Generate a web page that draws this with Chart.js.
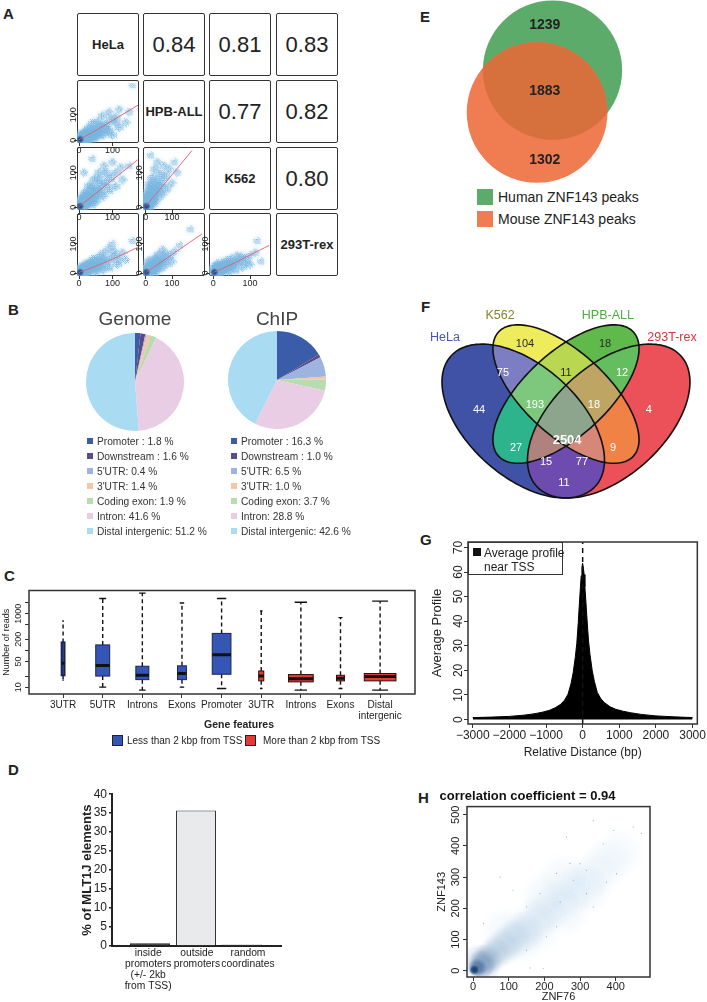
<!DOCTYPE html>
<html>
<head>
<meta charset="utf-8">
<title>ZNF143 binding overview</title>
<script src="https://cdn.jsdelivr.net/npm/chart.js@4.4.1/dist/chart.umd.min.js"></script>
<style>
  body { margin: 0; background: #fff; }
  #fig { position: relative; width: 707px; height: 1002px; overflow: hidden; background: #fff;
         font-family: "Liberation Sans", Arial, Helvetica, sans-serif; color: #222; }
  #fig canvas { position: absolute; }
  .t { position: absolute; white-space: nowrap; line-height: 1; }
  .letter { font-weight: bold; font-size: 15px; }
  .cell { position: absolute; box-sizing: border-box; border: 1.6px solid #333; border-radius: 2px;
          display: flex; align-items: center; justify-content: center; }
  .cell.name { font-weight: bold; font-size: 13px; }
  .cell.corr { font-size: 22px; }
  .leg { position: absolute; font-size: 10.2px; line-height: 15px; color: #333; white-space: nowrap; }
  .leg i { display: inline-block; width: 6px; height: 6px; margin-right: 4px; vertical-align: 1px; }
</style>
</head>
<body>
<div id="fig"></div>
<script>
// ---------------- data ----------------
// A: ZNF143 signal compared between cell lines
const cellLines = ['HeLa', 'HPB-ALL', 'K562', '293T-rex'];
const corrValues = [[0.84, 0.81, 0.83], [0.77, 0.82], [0.80]];
const pairTicks = [0, 100];
// [x, y, relative density], key = row index + column index
const cloud10 = [[3,3,1],[10,5,.9],[8,15,.8],[15,10,.9],[25,18,.8],[20,8,.85],[35,25,.7],[30,12,.75],[45,35,.6],[40,20,.65],[55,40,.5],[60,28,.55],[65,55,.4],[80,60,.35],[80,45,.4],[95,80,.25],[110,90,.2],[50,15,.5],[70,25,.4],[90,35,.3],[120,50,.2],[30,45,.4],[40,65,.25],[55,70,.3],[70,95,.2],[90,110,.15],[140,70,.12],[160,216,.05],[120,120,.1],[150,110,.08],[100,20,.2],[20,30,.5],[110,70,.2]];
const cloud20 = [[3,3,1],[10,8,.9],[15,12,.9],[25,20,.8],[20,30,.7],[35,30,.7],[45,40,.6],[40,55,.5],[55,45,.5],[65,60,.45],[60,80,.35],[80,70,.35],[95,85,.3],[80,100,.25],[110,100,.2],[125,115,.12],[20,40,.5],[30,60,.35],[45,80,.3],[60,100,.2],[75,120,.12],[50,20,.5],[35,12,.6],[70,35,.4],[90,50,.3],[110,60,.2],[130,80,.12],[150,120,.06],[40,140,.06],[15,100,.1],[8,20,.7],[100,130,.1]];
const cloud21 = [[3,3,1],[8,6,.9],[10,15,.9],[15,25,.8],[20,35,.7],[30,45,.6],[25,60,.45],[40,50,.5],[40,75,.35],[50,60,.4],[60,70,.35],[55,95,.25],[75,90,.25],[90,110,.15],[10,45,.5],[15,65,.35],[25,85,.3],[35,110,.2],[45,130,.12],[60,40,.4],[40,25,.5],[80,55,.25],[100,70,.15],[120,100,.08],[20,150,.05],[110,130,.06],[5,30,.6],[25,15,.7],[70,120,.12]];
const cloud30 = [[3,3,1],[10,4,.9],[15,8,.9],[25,12,.8],[35,18,.7],[45,22,.6],[55,28,.5],[65,35,.45],[80,40,.35],[95,50,.3],[110,60,.2],[130,70,.12],[30,30,.5],[45,45,.4],[60,55,.3],[75,70,.2],[90,85,.12],[50,8,.5],[70,15,.4],[90,20,.3],[115,30,.2],[140,45,.1],[160,110,.05],[100,100,.06],[20,25,.6],[8,12,.8],[40,35,.5],[70,50,.3],[105,75,.15],[120,45,.15]];
const cloud31 = [[3,3,1],[10,8,.9],[20,15,.8],[30,20,.7],[40,28,.6],[50,35,.5],[60,40,.45],[75,50,.35],[90,60,.25],[110,75,.15],[15,20,.6],[25,35,.45],[35,50,.3],[50,65,.2],[65,80,.12],[40,10,.4],[60,20,.3],[80,30,.2],[100,40,.12],[130,95,.06],[170,150,.04],[10,40,.3],[5,12,.8],[45,45,.4],[70,65,.2],[25,8,.6]];
const cloud32 = [[3,3,1],[10,8,.9],[20,12,.8],[30,18,.7],[40,22,.6],[50,28,.5],[60,35,.45],[70,40,.35],[85,50,.25],[100,60,.15],[115,70,.08],[15,20,.6],[25,30,.45],[35,40,.3],[50,50,.2],[65,60,.12],[40,8,.4],[60,12,.3],[80,20,.2],[100,30,.12],[130,40,.06],[120,110,.05],[10,30,.3],[5,12,.8],[45,35,.4],[75,55,.2],[90,35,.2]];
// red smoothing lines
const fit10 = [[0,2],[50,38],[100,77],[176,137]];
const fit20 = [[0,2],[50,40],[100,79],[175,137]];
const fit21 = [[0,3],[50,48],[100,94],[179,167]];
const fit30 = [[0,2],[50,24],[100,48],[175,88]];
const fit31 = [[0,2],[60,38],[120,76],[213,134]];
const fit32 = [[0,2],[50,30],[100,62],[152,95]];

// B: genomic distribution
const featureLabels = ['Promoter', 'Downstream', "5'UTR", "3'UTR", 'Coding exon', 'Intron', 'Distal intergenic'];
const genomePct = [1.8, 1.6, 0.4, 1.4, 1.9, 41.6, 51.2];
const chipPct = [16.3, 1.0, 6.5, 1.0, 3.7, 28.8, 42.6];
const pieTitles = ['Genome', 'ChIP'];

// C: reads per peak by gene feature
const boxGroups = ['3UTR', '5UTR', 'Introns', 'Exons', 'Promoter', '3UTR', 'Introns', 'Exons', ['Distal', 'intergenic']];
const boxNearTSS = [true, true, true, true, true, false, false, false, false];
const boxLow  = [15.5, 10, 8.3, 10, 9.2, 9.2, 8.3, 9.2, 8.3];
const boxQ1   = [21, 20, 16, 16, 22.4, 14.8, 13.9, 14.8, 14.8];
const boxMed  = [45, 39, 21, 23.5, 76, 20, 17, 17.5, 19.5];
const boxQ3   = [165, 141, 37, 38, 290, 27.5, 22, 21, 23.5];
const boxHigh = [630, 2580, 3630, 1950, 2580, 1180, 2050, 780, 2190];
const groupSizeRel = [0.09, 0.44, 0.41, 0.28, 0.59, 0.16, 0.78, 0.25, 1.0];
const readTicks = [10, 20, 50, 100, 200, 500, 1000, 2000];
const readTickLabels = ['10', '', '50', '', '200', '', '1000', ''];
const tssGroups = ['Less than 2 kbp from TSS', 'More than 2 kbp from TSS'];

// D: MLT1J elements
const mltCats = [['inside', 'promoters', '(+/- 2kb', 'from TSS)'], ['outside', 'promoters'], ['random', 'coordinates']];
const mltPct = [0.7, 35.7, 0.4];

// E: human / mouse peak overlap
const humanOnly = 1239, bothSpecies = 1883, mouseOnly = 1302;
const speciesNames = ['Human ZNF143 peaks', 'Mouse ZNF143 peaks'];

// F: four cell line overlap (set order HeLa, K562, HPB-ALL, 293T-rex)
const vennSets = ['HeLa', 'K562', 'HPB-ALL', '293T-rex'];
const vennKeys = ['1000','0100','0010','0001','1100','0110','0011','1110','0111','1010','0101','1111','1011','1101','1001'];
const vennCounts = [44, 104, 18, 4, 75, 11, 12, 193, 18, 27, 9, 2504, 15, 77, 11];

// G: average profile near TSS
const tssDist = [-3000,-2500,-2000,-1600,-1300,-1100,-900,-750,-600,-500,-400,-320,-260,-200,-160,-120,-90,-60,-40,-20,0,
                 20,40,60,90,120,160,200,260,320,400,500,600,750,900,1100,1300,1600,2000,2500,3000];
const tssProfile = [0.8,1.0,1.3,1.8,2.4,3.0,3.8,4.8,6.2,7.8,10.3,14.5,19,25.5,31,39.5,47,54,58.5,62,63.5,
                    61.5,59,54,47.5,40.5,32,26.5,20,15.5,11,8.4,6.8,5.2,4.2,3.4,2.8,2.1,1.5,1.1,0.8];
const tssMark = 0;

// H: ZNF143 vs ZNF76
const corrTitle = 'correlation coefficient = 0.94';
const hazeX = [3, 12, 25, 40, 60, 85, 110, 140, 170, 200, 235, 270, 305, 340, 375, 410, 130, 90, 200, 260, 320, 250, 180, 30, 15];
const hazeY = [3, 10, 22, 38, 55, 78, 100, 125, 155, 185, 215, 250, 280, 310, 345, 380, 95, 130, 240, 190, 260, 300, 130, 15, 30];
const hazeDens = [1, .8, .6, .5, .42, .35, .3, .25, .2, .17, .14, .12, .1, .08, .07, .05, .12, .1, .1, .1, .08, .08, .08, .45, .4];
const speckX = [318, 374, 393, 449, 472, 272, 234, 188, 150, 112, 76, 206, 234, 150, 197, 160, 29, 337, 365, 300, 262, 337, 402, 281, 318, 244];
const speckY = [322, 284, 450, 461, 440, 344, 312, 248, 205, 258, 300, 109, 141, 66, 8, 9, 152, 205, 407, 343, 428, 481, 311, 290, 247, 220];

// ---------------- setup ----------------
const FONT = '"Liberation Sans", Arial, Helvetica, sans-serif';
Chart.defaults.font.family = FONT;
Chart.defaults.color = '#222';
Chart.defaults.animation = false;
Chart.defaults.responsive = false;
Chart.defaults.events = [];
Chart.defaults.layout.autoPadding = false;
Chart.defaults.plugins.legend.display = false;
Chart.defaults.plugins.tooltip.enabled = false;

const fig = document.getElementById('fig');
function put(cls, css, text) {
  const e = document.createElement('div');
  e.className = cls; e.style.cssText = css;
  if (text != null) e.textContent = text;
  fig.appendChild(e);
  return e;
}
function mkCanvas(l, t, w, h) {
  const c = document.createElement('canvas');
  c.width = w; c.height = h;
  c.style.left = l + 'px'; c.style.top = t + 'px';
  fig.appendChild(c);
  return c;
}

// R-like y tick labels, turned on their side
const rotTicks = {
  id: 'rotTicks',
  afterDraw(chart, args, o) {
    if (!o || !o.on) return;
    const s = chart.scales.y, ctx = chart.ctx;
    ctx.save();
    ctx.font = `${o.size}px ${FONT}`;
    ctx.fillStyle = '#222';
    ctx.textAlign = 'center';
    ctx.textBaseline = 'alphabetic';
    s.ticks.forEach(t => {
      if (!t.label) return;
      ctx.save();
      ctx.translate(chart.chartArea.left - o.gap, s.getPixelForValue(t.value));
      ctx.rotate(-Math.PI / 2);
      ctx.fillText(t.label, 0, 0);
      ctx.restore();
    });
    ctx.restore();
  }
};
const frame = {
  id: 'frame',
  afterDraw(chart, args, o) {
    if (!o || !o.on) return;
    const a = chart.chartArea, ctx = chart.ctx;
    ctx.save();
    ctx.strokeStyle = '#333'; ctx.lineWidth = o.width || 1.5;
    ctx.strokeRect(a.left, a.top, a.right - a.left, a.bottom - a.top);
    ctx.restore();
  }
};
Chart.register(rotTicks, frame);

function rScale(o) {
  return {
    type: o.type || 'linear', position: o.pos, min: o.min, max: o.max,
    afterBuildTicks: s => { s.ticks = o.ticks.map(v => ({ value: v })); },
    afterFit: s => { if (o.pos === 'left') s.width = o.size; else s.height = o.size; },
    grid: { drawOnChartArea: false, drawTicks: true, tickLength: o.tick || 4, color: '#333', lineWidth: 1 },
    border: { display: false },
    ticks: {
      color: o.pos === 'left' ? 'rgba(0,0,0,0)' : '#222',
      font: { size: o.font || 10, lineHeight: 1.1 }, padding: o.pad || 0, maxRotation: 0, autoSkip: false,
      callback: (v, i) => o.labels ? o.labels[i] : (o.fmt ? o.fmt(v) : String(v))
    },
    title: o.title ? { display: true, text: o.title, color: '#222',
      font: { size: o.tsize || 11, weight: o.tbold ? 'bold' : 'normal' }, padding: o.tpad || { top: 0, bottom: 0 } }
      : { display: false }
  };
}

const spriteCache = {};
function sprite(r, rgb, a) {
  const key = r.toFixed(1) + '|' + rgb + '|' + a.toFixed(2);
  if (spriteCache[key]) return spriteCache[key];
  const n = Math.ceil(r * 2) + 2, c = document.createElement('canvas');
  c.width = c.height = n;
  const g = c.getContext('2d'), gr = g.createRadialGradient(n / 2, n / 2, 0, n / 2, n / 2, r);
  gr.addColorStop(0, `rgba(${rgb},${a})`);
  gr.addColorStop(0.55, `rgba(${rgb},${a * 0.75})`);
  gr.addColorStop(1, `rgba(${rgb},0)`);
  g.fillStyle = gr; g.fillRect(0, 0, n, n);
  return (spriteCache[key] = c);
}
// grainy sprite: ordered dither of a radial falloff, gives the dotted look of a dense scatter
const bayer = [[0, 8, 2, 10], [12, 4, 14, 6], [3, 11, 1, 9], [15, 7, 13, 5]];
function grainSprite(r, rgb, a) {
  const key = 'g' + r.toFixed(1) + '|' + rgb.join(',') + '|' + a.toFixed(2);
  if (spriteCache[key]) return spriteCache[key];
  const n = Math.ceil(r * 2) + 2, c = document.createElement('canvas');
  c.width = c.height = n;
  const g = c.getContext('2d'), img = g.createImageData(n, n);
  for (let y = 0; y < n; y++) for (let x = 0; x < n; x++) {
    const t = Math.hypot(x + 0.5 - n / 2, y + 0.5 - n / 2) / r;
    if (t >= 1) continue;
    const f = a * 1.5 * (1 - t * t);
    if (f > (bayer[y % 4][x % 4] + 0.5) / 16) {
      const o = (y * n + x) * 4;
      img.data[o] = rgb[0]; img.data[o + 1] = rgb[1]; img.data[o + 2] = rgb[2]; img.data[o + 3] = 205;
    }
  }
  g.putImageData(img, 0, 0);
  return (spriteCache[key] = c);
}
function aGrain(d) {
  return d >= 1 ? sprite(4, '20,55,125', 0.95) : grainSprite(4.5 + 3.5 * d, [120, 182, 224], 0.4 + 0.55 * d);
}
function aHaze(d) {
  return sprite(7 + 3 * d, '140,195,232', 0.15 + 0.3 * d);
}
function hSprite(d) {
  const t = Math.pow(d, 1.5), lo = [195, 222, 243], hi = [8, 48, 107];
  const rgb = lo.map((v, i) => Math.round(v + (hi[i] - v) * t)).join(',');
  return sprite(5 + (1 - d) * 22, rgb, 0.12 + 0.75 * Math.pow(d, 1.2));
}

// ---------------- panel letters ----------------
[['A', 3, 6], ['B', 8, 302], ['C', 4, 568], ['D', 8, 762], ['E', 420, 9], ['F', 421, 299], ['G', 420, 532], ['H', 418, 790]]
  .forEach(([s, l, t]) => put('t letter', `left:${l}px;top:${t}px`, s));

// ---------------- A ----------------
const cellX = [77, 143, 209, 276], cellY = [13, 80, 147, 213], cellW = 62, cellH = 63;
const colRange = [[-6, 179], [-10, 225], [-11.5, 157]];
const rowRange = [null, [-11, 222], [-8, 164], [-10, 194]];
const pairClouds = { '10': cloud10, '20': cloud20, '21': cloud21, '30': cloud30, '31': cloud31, '32': cloud32 };
const pairFits = { '10': fit10, '20': fit20, '21': fit21, '30': fit30, '31': fit31, '32': fit32 };

function pairChart(r, c) {
  const key = `${r}${c}`, padL = 16, padB = 12;
  const pts = pairClouds[key].map(p => ({ x: p[0], y: p[1], d: p[2] })).sort((a, b) => a.d - b.d);
  const cv = mkCanvas(cellX[c] - padL, cellY[r] - 2, cellW + padL + 2, cellH + padB + 2);
  new Chart(cv, {
    type: 'scatter',
    data: { datasets: [
      { type: 'line', data: pairFits[key].map(p => ({ x: p[0], y: p[1] })), borderColor: 'rgba(228,90,110,0.9)',
        borderWidth: 1, pointRadius: 0, tension: 0.3 },
      { data: pts, pointRadius: 1, pointStyle: ctx => ctx.raw ? aGrain(ctx.raw.d) : 'circle' },
      { data: pts.filter(p => p.d < 1), pointRadius: 1, pointStyle: ctx => ctx.raw ? aHaze(ctx.raw.d) : 'circle' }
    ] },
    options: {
      layout: { padding: { top: 2, right: 2 } },
      scales: {
        x: rScale({ pos: 'bottom', min: colRange[c][0], max: colRange[c][1], ticks: pairTicks, size: padB, tick: 3, font: 9 }),
        y: rScale({ pos: 'left', min: rowRange[r][0], max: rowRange[r][1], ticks: pairTicks, size: padL, tick: 3 })
      },
      plugins: { rotTicks: { on: true, size: 9, gap: 1.5 } }
    }
  });
}

for (let r = 0; r < 4; r++) {
  for (let c = 0; c < 4; c++) {
    const css = `left:${cellX[c]}px;top:${cellY[r]}px;width:${cellW}px;height:${cellH}px`;
    if (r === c) put('cell name', css, cellLines[r]);
    else if (c > r) put('cell corr', css, corrValues[r][c - r - 1].toFixed(2));
    else put('cell', css);
  }
}
for (let r = 1; r < 4; r++) for (let c = 0; c < r; c++) pairChart(r, c);

// ---------------- B ----------------
const featureColors = ['#3b5ca8', '#5b4b85', '#9db4e0', '#f6c3ab', '#b6dcb0', '#e8cde4', '#a9dbf2'];
function pieBlock(title, vals, cx, cy, legLeft) {
  put('t', `left:${cx}px;top:309px;transform:translateX(-50%);font-size:19px;color:#444`, title);
  const cv = mkCanvas(cx - 49, cy - 49, 98, 98);
  new Chart(cv, {
    type: 'pie',
    data: { labels: featureLabels, datasets: [{ data: vals, backgroundColor: featureColors, borderWidth: 0, hoverOffset: 0 }] },
    options: { layout: { padding: 0 } }
  });
  featureLabels.forEach((f, i) => {
    const el = put('leg', `left:${legLeft}px;top:${434 + i * 15}px`);
    const sq = document.createElement('i'); sq.style.background = featureColors[i];
    el.appendChild(sq);
    el.appendChild(document.createTextNode(`${f}${i < 2 ? ' : ' : ': '}${vals[i].toFixed(1)} %`));
  });
}
pieBlock(pieTitles[0], genomePct, 135, 382, 87);
pieBlock(pieTitles[1], chipPct, 277, 380, 231);

// ---------------- C ----------------
const boxFill = { near: '#3556b5', far: '#e23a34' };
const boxPlot = {
  id: 'boxPlot',
  beforeDatasetsDraw(chart) {
    const xs = chart.scales.x, ys = chart.scales.y, ctx = chart.ctx;
    const unit = xs.getPixelForValue(2) - xs.getPixelForValue(1);
    boxMed.forEach((m, i) => {
      const cx = xs.getPixelForValue(i + 1), w = groupSizeRel[i] * 0.8 * unit;
      const yq1 = ys.getPixelForValue(boxQ1[i]), yq3 = ys.getPixelForValue(boxQ3[i]);
      const ylo = ys.getPixelForValue(boxLow[i]), yhi = ys.getPixelForValue(boxHigh[i]);
      ctx.save();
      ctx.strokeStyle = '#111'; ctx.lineWidth = 1.4; ctx.setLineDash([4, 3]);
      ctx.beginPath(); ctx.moveTo(cx, yq3); ctx.lineTo(cx, yhi); ctx.moveTo(cx, yq1); ctx.lineTo(cx, ylo); ctx.stroke();
      ctx.setLineDash([]);
      ctx.beginPath(); ctx.moveTo(cx - w / 4, yhi); ctx.lineTo(cx + w / 4, yhi);
      ctx.moveTo(cx - w / 4, ylo); ctx.lineTo(cx + w / 4, ylo); ctx.stroke();
      ctx.fillStyle = boxNearTSS[i] ? boxFill.near : boxFill.far;
      ctx.fillRect(cx - w / 2, yq3, w, yq1 - yq3);
      ctx.strokeStyle = boxNearTSS[i] ? '#1b2452' : '#2a1111'; ctx.lineWidth = w < 4 ? 2 : 1;
      ctx.strokeRect(cx - w / 2, yq3, w, yq1 - yq3);
      ctx.restore();
    });
  }
};
{
  const cv = mkCanvas(0, 585, 425, 138);
  new Chart(cv, {
    type: 'scatter',
    data: { datasets: [{
      data: boxMed.map((m, i) => ({ x: i + 1, y: m })), pointStyle: 'line',
      pointRadius: c => { const xs = c.chart.scales.x; return groupSizeRel[c.dataIndex] * 0.4 * (xs.getPixelForValue(2) - xs.getPixelForValue(1)); },
      pointBorderWidth: 3, pointBorderColor: '#111'
    }] },
    options: {
      layout: { padding: { top: 4, right: 10 } },
      scales: {
        x: rScale({ pos: 'bottom', min: 0.14, max: 9.88, ticks: [1, 2, 3, 4, 5, 6, 7, 8, 9], labels: boxGroups, size: 29, font: 10, pad: 2 }),
        y: rScale({ type: 'logarithmic', pos: 'left', min: 6.5, max: 4270, ticks: readTicks, labels: readTickLabels, size: 29,
                    title: 'Number of reads', tsize: 9, tpad: { top: 1, bottom: 0 } })
      },
      plugins: { frame: { on: true }, rotTicks: { on: true, size: 9, gap: 8 } }
    },
    plugins: [boxPlot]
  });
  put('t', 'left:239px;top:719px;transform:translateX(-50%);font-size:10.5px;font-weight:bold', 'Gene features');
  [[112, 127, boxFill.near], [245, 263, boxFill.far]].forEach(([l, tl, col], i) => {
    put('t', `left:${l}px;top:735px;width:11px;height:11px;background:${col};border:1px solid #222;box-sizing:border-box`);
    put('t', `left:${tl}px;top:736px;font-size:10px`, tssGroups[i]);
  });
}

// ---------------- D ----------------
{
  const labelAt = [0.96, 2.02, 3.13];   // where the category captions sit along the axis
  const cv = mkCanvas(60, 785, 240, 215);
  new Chart(cv, {
    type: 'bar',
    data: { datasets: [{ data: mltPct.map((v, i) => ({ x: i + 1, y: v })), backgroundColor: ['#1e1e1e', '#e9eaec', '#cfcfcf'],
      borderColor: ['#222', '#333', '#444'], borderWidth: 1, barPercentage: 0.87, categoryPercentage: 1 }] },
    options: {
      layout: { padding: { top: 9, right: 19 } },
      scales: {
        x: { type: 'linear', offset: false, min: 0.174, max: 3.848, grid: { display: false, drawTicks: false },
             border: { display: true, width: 2, color: '#222' },
             afterBuildTicks: s => { s.ticks = labelAt.map(v => ({ value: v })); },
             ticks: { font: { size: 10.3, lineHeight: 1.1 }, padding: 1, maxRotation: 0, autoSkip: false, color: '#222',
                      callback: (v, i) => mltCats[i] },
             afterFit: s => { s.height = 54; } },
        y: { min: 0, max: 40, ticks: { stepSize: 5, font: { size: 12 }, padding: 2, color: '#222' },
             grid: { drawOnChartArea: false, tickLength: 3, color: '#222', lineWidth: 1.5 },
             border: { display: true, width: 2, color: '#222' },
             title: { display: true, text: '% of MLT1J elements', font: { size: 13, weight: 'bold' }, padding: { top: 20, bottom: 0 }, color: '#222' },
             afterFit: s => { s.width = 52; } }
      }
    }
  });
}

// ---------------- E ----------------
function lensArea(r1, r2, d) {
  if (d >= r1 + r2) return 0;
  if (d <= Math.abs(r1 - r2)) return Math.PI * Math.min(r1, r2) ** 2;
  const a = r1 * r1 * Math.acos((d * d + r1 * r1 - r2 * r2) / (2 * d * r1));
  const b = r2 * r2 * Math.acos((d * d + r2 * r2 - r1 * r1) / (2 * d * r2));
  const c = 0.5 * Math.sqrt((-d + r1 + r2) * (d + r1 - r2) * (d - r1 + r2) * (d + r1 + r2));
  return a + b - c;
}
{
  const W = 267, H = 186, meanR = 70;
  const humanTotal = humanOnly + bothSpecies, mouseTotal = mouseOnly + bothSpecies;
  const k = meanR / Math.sqrt((humanTotal + mouseTotal) / 2);
  const rH = k * Math.sqrt(humanTotal), rM = k * Math.sqrt(mouseTotal);
  const target = Math.PI * k * k * bothSpecies;
  let lo = Math.abs(rH - rM) + 0.01, hi = rH + rM;
  for (let i = 0; i < 60; i++) { const mid = (lo + hi) / 2; if (lensArea(rH, rM, mid) > target) lo = mid; else hi = mid; }
  const d = (lo + hi) / 2, ang = 110 * Math.PI / 180;
  const hC = { x: 112.5, y: rH + 0.5 };
  const mC = { x: hC.x + d * Math.cos(ang), y: hC.y + d * Math.sin(ang) };
  const colors = ['#5cab6b', '#f07c52'];
  const overlap = {
    id: 'overlapE',
    afterDatasetsDraw(chart) {
      const ctx = chart.ctx, h = chart.getDatasetMeta(1).data[0], m = chart.getDatasetMeta(0).data[0];
      ctx.save();
      ctx.beginPath(); ctx.arc(h.x, h.y, h.options.radius, 0, 2 * Math.PI); ctx.clip();
      ctx.beginPath(); ctx.arc(m.x, m.y, m.options.radius, 0, 2 * Math.PI);
      ctx.fillStyle = '#d6703c'; ctx.fill();
      ctx.restore();
      const mx = (h.x + m.x) / 2;
      ctx.save();
      ctx.font = `bold 14px ${FONT}`; ctx.fillStyle = '#222'; ctx.textAlign = 'center'; ctx.textBaseline = 'middle';
      ctx.fillText(String(humanOnly), mx, h.y - h.options.radius + 25);
      ctx.fillText(String(bothSpecies), mx, (h.y + m.y) / 2);
      ctx.fillText(String(mouseOnly), mx, m.y + m.options.radius - 23);
      ctx.restore();
    }
  };
  const cv = mkCanvas(440, 0, W, H);
  new Chart(cv, {
    type: 'bubble',
    data: { datasets: [
      { label: speciesNames[1], data: [{ x: mC.x, y: mC.y, r: rM }], backgroundColor: colors[1], borderWidth: 0 },
      { label: speciesNames[0], data: [{ x: hC.x, y: hC.y, r: rH }], backgroundColor: colors[0], borderWidth: 0 }
    ] },
    options: {
      layout: { padding: 0 },
      scales: { x: { display: false, min: 0, max: W }, y: { display: false, min: 0, max: H, reverse: true } }
    },
    plugins: [overlap]
  });
  speciesNames.forEach((s, i) => {
    put('t', `left:477px;top:${189 + i * 21.5}px;width:16px;height:16px;background:${colors[i]}`);
    put('t', `left:498px;top:${190 + i * 21.5}px;font-size:14px`, s);
  });
}

// ---------------- F ----------------
{
  // ellipse layout of the classic four-set diagram, in unit coordinates
  const fEllipses = [
    { x: 0.35, y: 0.47, a: 0.35, b: 0.20, rot: 135 },
    { x: 0.50, y: 0.57, a: 0.33, b: 0.15, rot: 135 },
    { x: 0.50, y: 0.57, a: 0.33, b: 0.15, rot: 45 },
    { x: 0.65, y: 0.47, a: 0.35, b: 0.20, rot: 45 }
  ];
  const vennFill = ['rgb(64,82,165)', 'rgb(238,236,92)', 'rgb(95,185,75)', 'rgb(236,80,88)', 'rgb(125,125,195)',
    'rgb(185,215,80)', 'rgb(100,190,95)', 'rgb(125,200,125)', 'rgb(190,165,100)', 'rgb(45,180,140)',
    'rgb(240,130,70)', 'rgb(140,165,140)', 'rgb(175,130,125)', 'rgb(215,135,120)', 'rgb(110,75,175)'];
  const vennTextPos = [[0.195, 0.511], [0.356, 0.755], [0.637, 0.755], [0.791, 0.511], [0.279, 0.648], [0.5, 0.648],
    [0.697, 0.648], [0.391, 0.529], [0.598, 0.529], [0.325, 0.37], [0.665, 0.37], [0.504, 0.40], [0.43, 0.318], [0.556, 0.318], [0.493, 0.241]];
  const setLabelPos = [[0.0755, 0.781], [0.2685, 0.859], [0.647, 0.859], [0.872, 0.781]];
  const setColors = ['rgb(75,85,170)', 'rgb(135,130,45)', 'rgb(80,170,70)', 'rgb(220,50,60)'];
  const darkText = ['0100', '0010', '0110'];

  function ellipsePath(xs, ys, e) {
    const p = new Path2D(), t = e.rot * Math.PI / 180;
    for (let k = 0; k <= 160; k++) {
      const a = k / 160 * 2 * Math.PI, u = e.a * Math.cos(a), v = e.b * Math.sin(a);
      const px = xs.getPixelForValue(e.x + u * Math.cos(t) - v * Math.sin(t));
      const py = ys.getPixelForValue(e.y + u * Math.sin(t) + v * Math.cos(t));
      if (k) p.lineTo(px, py); else p.moveTo(px, py);
    }
    p.closePath();
    return p;
  }
  const venn4 = {
    id: 'venn4',
    afterDatasetsDraw(chart) {
      const xs = chart.scales.x, ys = chart.scales.y, ctx = chart.ctx, A = chart.chartArea;
      const paths = fEllipses.map(e => ellipsePath(xs, ys, e));
      vennKeys.forEach((key, i) => {
        ctx.save();
        for (let s = 0; s < 4; s++) {
          if (key[s] === '1') ctx.clip(paths[s]);
          else {
            const p = new Path2D();
            p.rect(A.left, A.top, A.right - A.left, A.bottom - A.top);
            p.addPath(paths[s]);
            ctx.clip(p, 'evenodd');
          }
        }
        ctx.fillStyle = vennFill[i];
        ctx.fillRect(A.left, A.top, A.right - A.left, A.bottom - A.top);
        ctx.restore();
      });
      ctx.save();
      ctx.strokeStyle = '#111'; ctx.lineWidth = 1.6;
      paths.forEach(p => ctx.stroke(p));
      ctx.textAlign = 'center'; ctx.textBaseline = 'middle';
      vennKeys.forEach((key, i) => {
        ctx.font = key === '1111' ? `bold 13px ${FONT}` : `11px ${FONT}`;
        ctx.fillStyle = darkText.includes(key) ? '#2a2a2a' : '#fff';
        ctx.fillText(String(vennCounts[i]), xs.getPixelForValue(vennTextPos[i][0]), ys.getPixelForValue(vennTextPos[i][1]));
      });
      ctx.font = `12.5px ${FONT}`;
      vennSets.forEach((s, i) => {
        ctx.fillStyle = setColors[i];
        ctx.fillText(s, xs.getPixelForValue(setLabelPos[i][0]), ys.getPixelForValue(setLabelPos[i][1]));
      });
      ctx.restore();
    }
  };
  const cv = mkCanvas(420, 300, 287, 205);
  new Chart(cv, {
    type: 'scatter',
    data: { datasets: [] },
    options: {
      layout: { padding: 0 },
      scales: { x: { display: false, min: -0.01219, max: 0.99482 }, y: { display: false, min: 0.15907, max: 0.91833 } }
    },
    plugins: [venn4]
  });
}

// ---------------- G ----------------
{
  const cv = mkCanvas(405, 535, 302, 225);
  new Chart(cv, {
    type: 'line',
    data: { datasets: [
      { data: [{ x: tssMark, y: -1.8 }, { x: tssMark, y: 72.2 }], borderColor: '#111', borderWidth: 1.5, borderDash: [5, 4], pointRadius: 0 },
      { data: tssDist.map((x, i) => ({ x, y: tssProfile[i] })), borderColor: '#000', backgroundColor: '#000',
        borderWidth: 1, fill: 'origin', pointRadius: 0, tension: 0 }
    ] },
    options: {
      layout: { padding: { top: 7, right: 4 } },
      scales: {
        x: rScale({ pos: 'bottom', min: -3130, max: 3130, ticks: [-3000, -2000, -1000, 0, 1000, 2000, 3000], size: 36, font: 12, pad: 1,
                    fmt: v => v < 0 ? '\u2212' + (-v) : String(v), title: 'Relative Distance (bp)', tsize: 12 }),
        y: rScale({ pos: 'left', min: -1.8, max: 72.2, ticks: [0, 10, 20, 30, 40, 50, 60, 70], size: 63,
                    title: 'Average Profile', tsize: 13, tpad: { top: 25, bottom: 0 } })
      },
      plugins: { frame: { on: true }, rotTicks: { on: true, size: 12, gap: 6 } }
    }
  });
  put('t', 'left:468px;top:542px;width:95px;height:33px;background:#fff;border:1.5px solid #333;box-sizing:border-box');
  put('t', 'left:473px;top:548px;width:8px;height:8px;background:#111');
  put('t', 'left:484px;top:546px;font-size:12px;line-height:14px', 'Average profile');
  put('t', 'left:484px;top:560px;font-size:12px;line-height:14px', 'near TSS');
}

// ---------------- H ----------------
{
  const cv = mkCanvas(405, 785, 302, 217);
  new Chart(cv, {
    type: 'scatter',
    data: { datasets: [
      { data: speckX.map((x, i) => ({ x, y: speckY[i] })), pointRadius: 0.6, backgroundColor: 'rgba(50,80,120,0.45)', borderWidth: 0 },
      { data: hazeX.map((x, i) => ({ x, y: hazeY[i], d: hazeDens[i] })).sort((a, b) => a.d - b.d),
        pointRadius: 1, pointStyle: c => c.raw ? hSprite(c.raw.d) : 'circle' }
    ] },
    options: {
      layout: { padding: { right: 57 } },
      scales: {
        x: rScale({ pos: 'bottom', min: -17, max: 496, ticks: [0, 100, 200, 300, 400], size: 25, font: 11,
                    title: 'ZNF76', tsize: 11, tpad: { top: 0, bottom: -2 } }),
        y: rScale({ pos: 'left', min: -20, max: 526, ticks: [0, 100, 200, 300, 400, 500], size: 62,
                    title: 'ZNF143', tsize: 11, tpad: { top: 30, bottom: 0 } })
      },
      plugins: {
        title: { display: true, text: corrTitle, color: '#111', font: { size: 13, weight: 'bold' }, padding: { top: 4, bottom: 2 } },
        frame: { on: true }, rotTicks: { on: true, size: 11, gap: 8.5 }
      }
    }
  });
}
</script>
</body>
</html>
